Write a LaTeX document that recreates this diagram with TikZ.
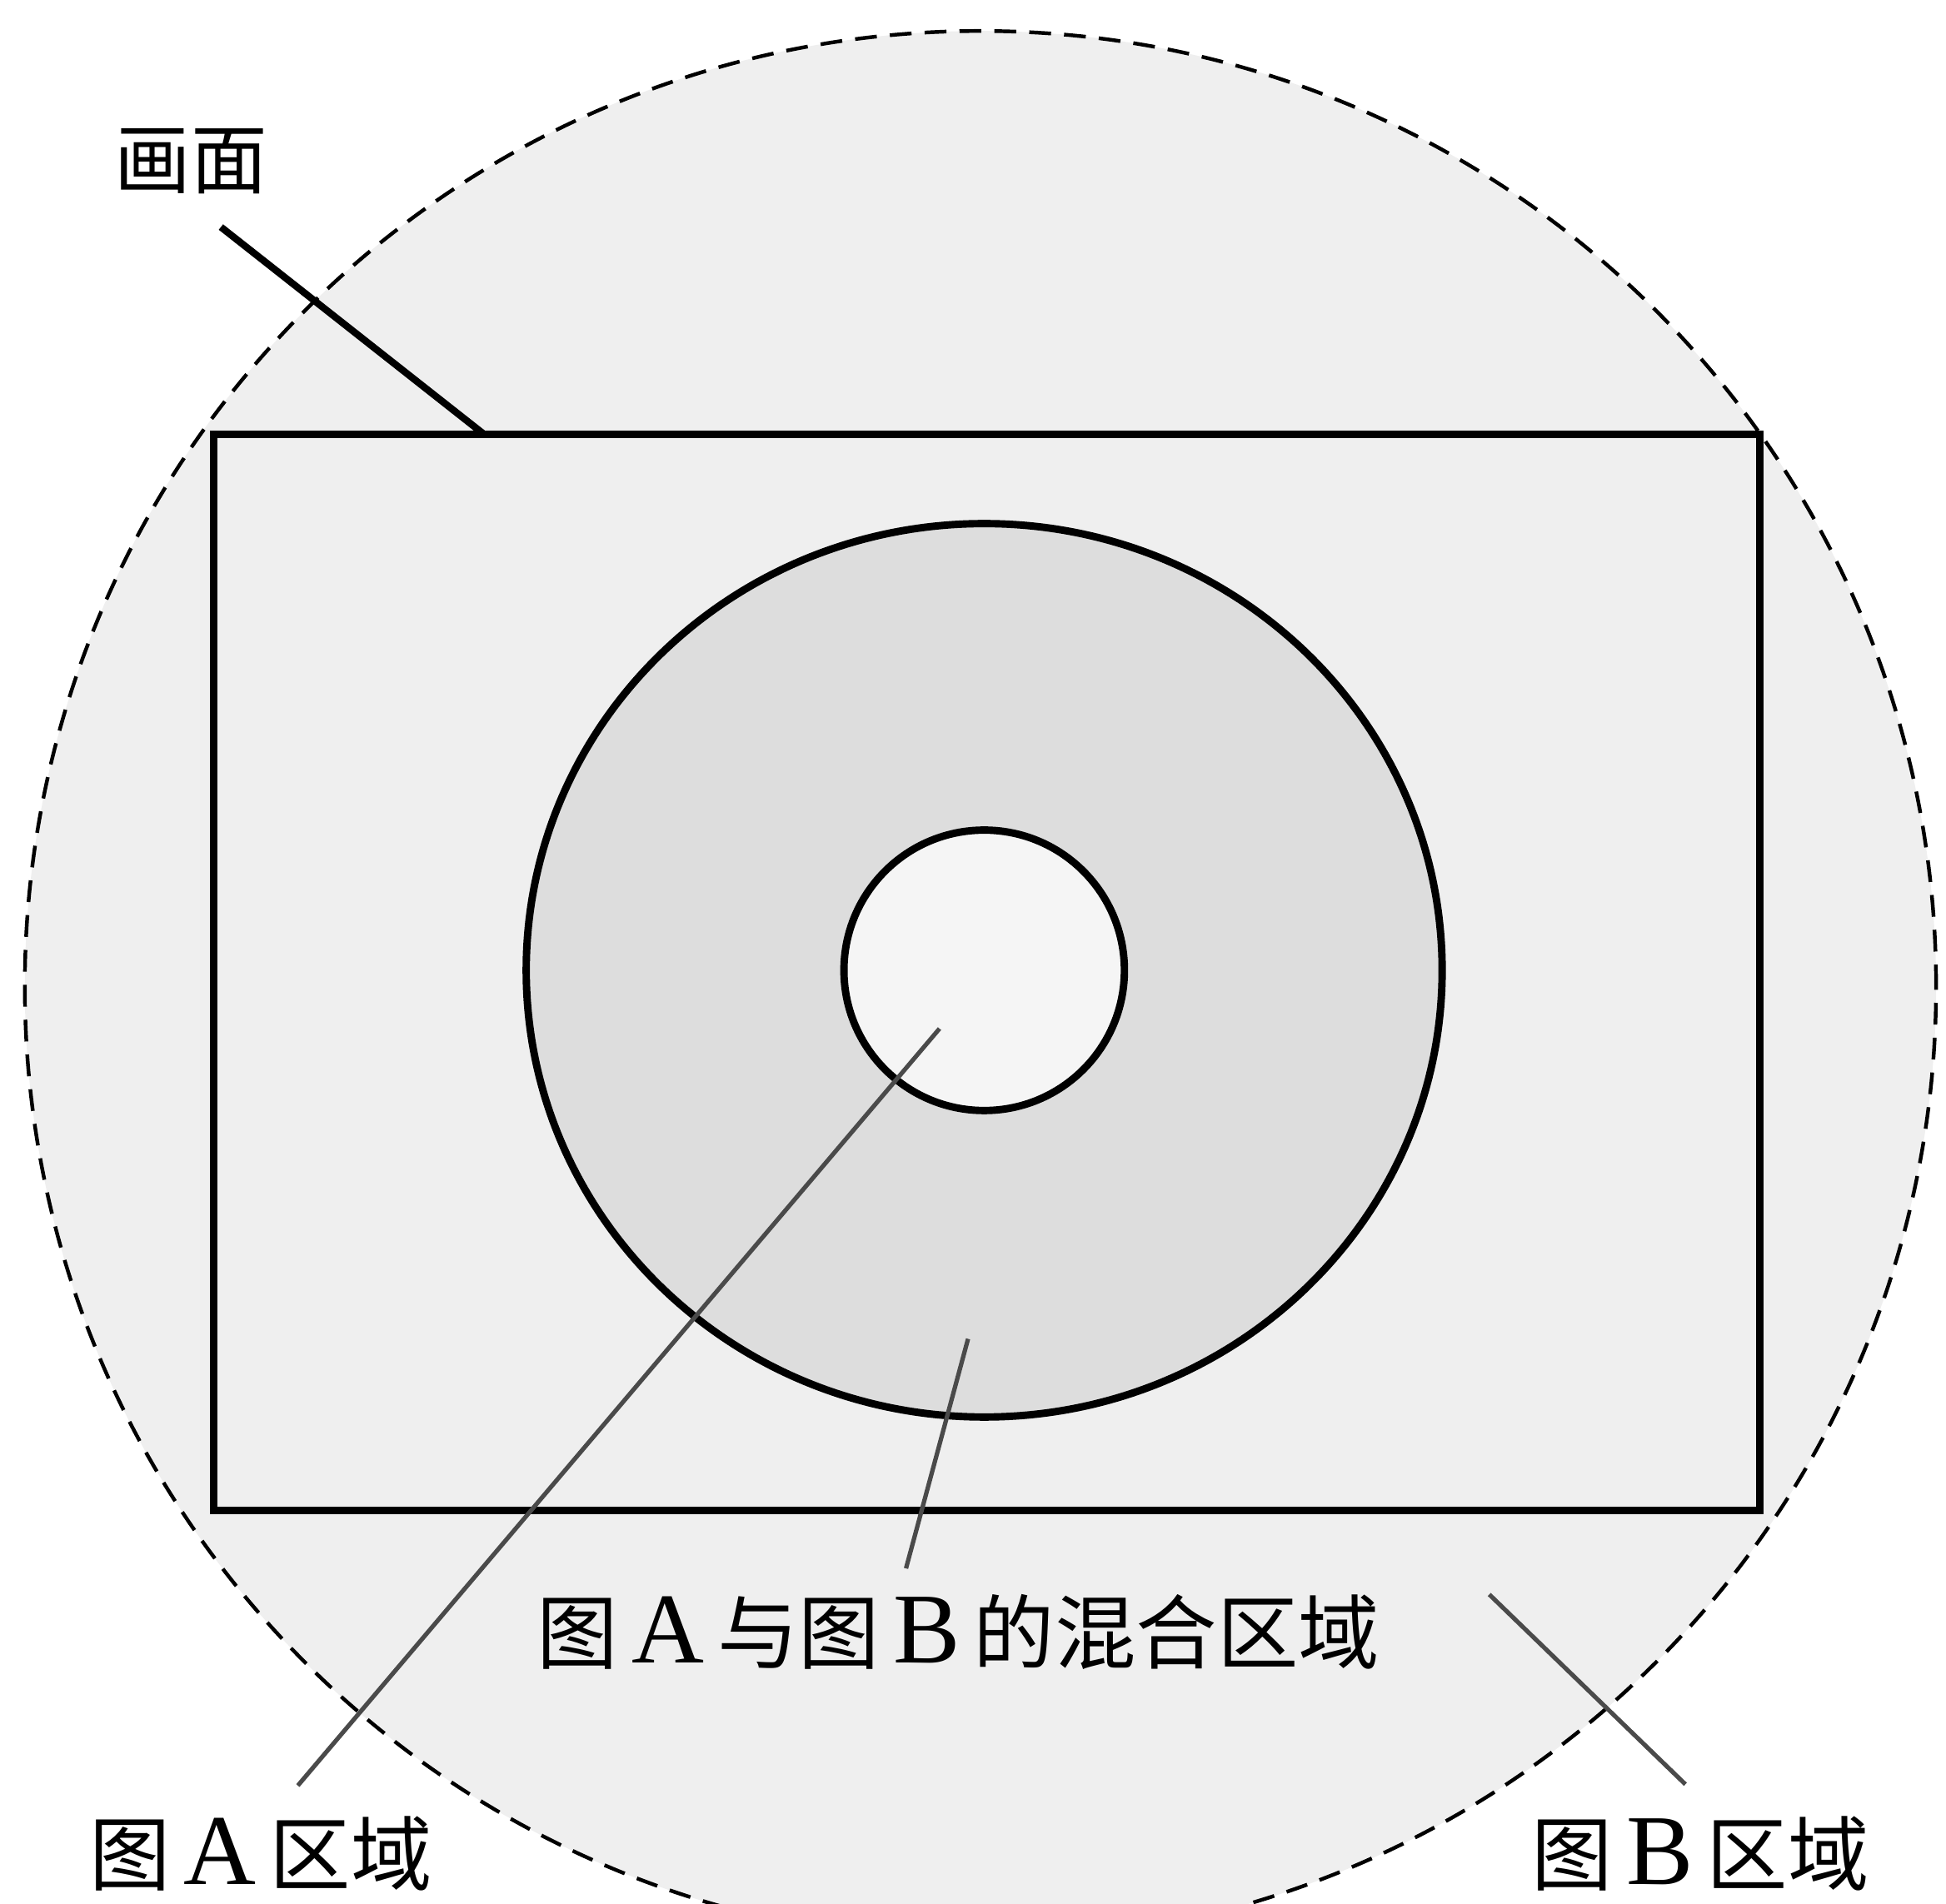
\documentclass[tikz,border=0pt]{standalone}
\usepackage{fontspec}
\setmainfont{Liberation Serif}
\newfontfamily\cjk{Noto Sans CJK SC}
\newcommand\zh[1]{{\cjk #1}}
\newcommand\lt[1]{{\fontsize{23pt}{24pt}\selectfont #1}}
\definecolor{outerGray}{HTML}{EFEFEF}
\definecolor{ringGray}{HTML}{DDDDDD}
\definecolor{innerGray}{HTML}{F5F5F5}
\definecolor{leaderGray}{HTML}{4A4A4A}

\begin{document}
\begin{tikzpicture}[
  outline/.style={draw=black, line width=1.7pt},
  zone/.style={draw=black, line width=0.85pt, dash pattern=on 5pt off 3pt, fill=outerGray},
  leader/.style={draw=leaderGray, line width=1.0pt},
  mainleader/.style={draw=black, line width=1.6pt},
  label/.style={inner sep=0pt, font=\fontsize{18.6pt}{22pt}\selectfont}
]
\useasboundingbox (0,0) rectangle (15.68,15.34);
\begin{scope}
\clip (0,0) rectangle (15.68,15.34);
% regions
\draw[zone] (7.90,7.39) circle (7.70);
\end{scope}
\fill[ringGray] (7.93,7.52) ellipse [x radius=3.69, y radius=3.60];
\fill[innerGray] (7.93,7.52) circle (1.13);
\draw[outline] (1.72,3.17) rectangle (14.18,11.84);
\draw[outline] (7.93,7.52) ellipse [x radius=3.69, y radius=3.60];
\draw[outline] (7.93,7.52) circle (1.13);

% labels
\node[label, font=\fontsize{17.5pt}{20pt}\selectfont] (screen) at (1.54,14.04) {\zh{画面}};
\node[label] (areaA) at (2.10,0.40) {\zh{图}\,\lt{A}\,\zh{区域}};
\node[label] (areaB) at (13.70,0.40) {\zh{图}\,\lt{B}\,\zh{区域}};
\node[label] (mixed) at (7.72,2.19) {\zh{图}\,\lt{A}\,\zh{与图}\,\lt{B}\,\zh{的混合区域}};

% leader ends
\coordinate (screenTop) at (1.78,13.51);
\coordinate (screenBot) at (3.90,11.84);
\coordinate (aTop) at (7.57,7.05);
\coordinate (aBot) at (2.40,0.95);
\coordinate (mixTop) at (7.80,4.55);
\coordinate (mixBot) at (7.30,2.70);
\coordinate (bTop) at (12.00,2.49);
\coordinate (bBot) at (13.58,0.96);

\draw[mainleader] (screenTop) -- (screenBot);
\draw[leader] (aTop) -- (aBot);
\draw[leader] (mixTop) -- (mixBot);
\draw[leader] (bTop) -- (bBot);
\end{tikzpicture}
\end{document}
